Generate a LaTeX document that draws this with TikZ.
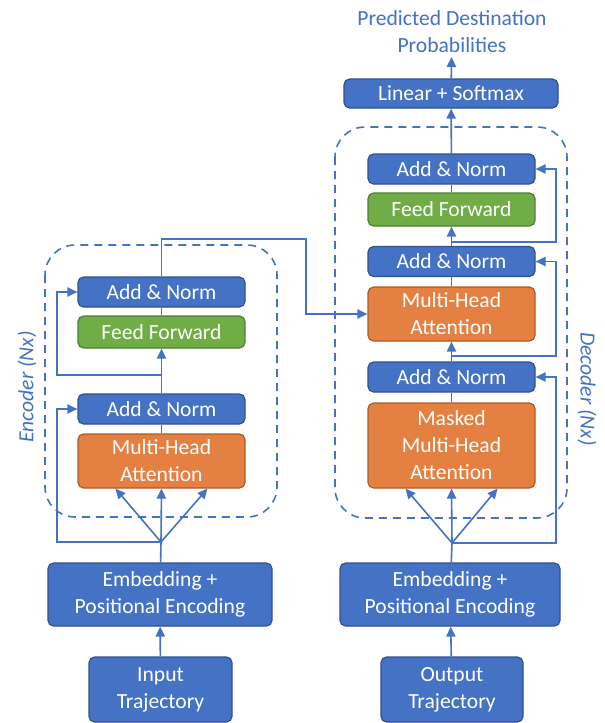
\documentclass[tikz,border=0pt]{standalone}
\usepackage{fontspec}
\setmainfont{Carlito}
\usetikzlibrary{arrows.meta}
\definecolor{lineblue}{HTML}{4472C4}
\definecolor{boxblue}{HTML}{4472C4}
\definecolor{edgeblue}{HTML}{2F528F}
\definecolor{boxgreen}{HTML}{70AD47}
\definecolor{edgegreen}{HTML}{507E32}
\definecolor{boxorange}{HTML}{E48041}
\definecolor{edgeorange}{HTML}{AE5A21}
\begin{document}
\begin{tikzpicture}[x=0.5pt, y=-0.5pt,
    font=\fontsize{10.8}{13.5}\selectfont,
    >={Triangle[length=5pt,width=4.6pt]},
    block/.style={draw, line width=0.6pt, rounded corners=2.8pt, text=white,
        align=center, inner sep=1pt, minimum width=83.5pt, minimum height=15pt},
    bluebox/.style={block, fill=boxblue, draw=edgeblue},
    greenbox/.style={block, fill=boxgreen, draw=edgegreen},
    orangebox/.style={block, fill=boxorange, draw=edgeorange},
    link/.style={draw=lineblue, line width=0.8pt},
    arr/.style={link, ->},
    stack/.style={draw=lineblue, line width=0.8pt, dash pattern=on 4pt off 3pt, rounded corners=15pt},
    caption/.style={text=lineblue, align=center}]
    \useasboundingbox (0,0) rectangle (605,723);

    \draw[stack] (45,245) rectangle (277,517);
    \draw[stack] (335,127) rectangle (567,518);
    \node[caption, rotate=90, font=\fontsize{10.8}{13.5}\selectfont\itshape] (enclabel) at (27,387) {Encoder (Nx)};
    \node[caption, rotate=-90, font=\fontsize{10.8}{13.5}\selectfont\itshape] (declabel) at (587,389) {Decoder (Nx)};

    \begin{scope}
        \node[bluebox, minimum width=71.5pt, minimum height=32.5pt] (inp) at (160.5,689.5) {Input\\Trajectory};
        \node[bluebox, minimum width=112pt, minimum height=31.5pt] (encemb) at (160,594.5) {Embedding +\\Positional Encoding};
        \node[orangebox, minimum height=27pt] (encmha) at (161.5,461) {Multi-Head\\Attention};
        \node[bluebox] (encan1) at (161.5,409) {Add \& Norm};
        \node[greenbox, minimum height=16pt] (encff) at (161.5,332) {Feed Forward};
        \node[bluebox] (encan2) at (161.5,292) {Add \& Norm};

        \coordinate (encb1) at (161,542);
        \coordinate (encb2) at (161,375);
        \coordinate (encres) at (57,542);
        \coordinate (cross) at (306,239);

        \draw[arr] (inp) -- (encemb);
        \draw[link] (encemb) -- (encb1);
        \draw[arr] (encb1) -- ([xshift=-23pt]encmha.south);
        \draw[arr] (encb1) -- (encmha.south);
        \draw[arr] (encb1) -- ([xshift=23pt]encmha.south);
        \draw[arr] (encb1) -- (encres) |- (encan1.west);
        \draw[link] (encmha) -- (encan1);
        \draw[arr] (encan1) -- (encff);
        \draw[arr] (encb2) -- (encb2 -| encres) |- (encan2.west);
        \draw[link] (encff) -- (encan2);
    \end{scope}

    \begin{scope}
        \node[bluebox, minimum width=71pt, minimum height=32.5pt] (outp) at (452,689.5) {Output\\Trajectory};
        \node[bluebox, minimum width=110pt, minimum height=31.5pt] (decemb) at (450,594.5) {Embedding +\\Positional Encoding};
        \node[orangebox, minimum height=42.5pt] (decmmha) at (451.5,445.5) {Masked\\Multi-Head\\Attention};
        \node[bluebox] (decan1) at (451.5,377) {Add \& Norm};
        \node[orangebox, minimum height=27pt] (decmha) at (451.5,314) {Multi-Head\\Attention};
        \node[bluebox] (decan2) at (451.5,261.5) {Add \& Norm};
        \node[greenbox, minimum height=16.5pt] (decff) at (451.5,209.5) {Feed Forward};
        \node[bluebox] (decan3) at (451.5,169) {Add \& Norm};
        \node[bluebox, minimum width=107pt, minimum height=14.5pt] (linear) at (451,93.5) {Linear + Softmax};
        \node[caption, inner sep=2pt] (pred) at (452,31.5) {Predicted Destination\\Probabilities};

        \coordinate (decb1) at (452,543);
        \coordinate (decb2) at (452,356);
        \coordinate (decb3) at (452,242);
        \coordinate (decres) at (556,543);

        \draw[arr] (outp) -- (decemb);
        \draw[link] (decemb) -- (decb1);
        \draw[arr] (decb1) -- ([xshift=-23pt]decmmha.south);
        \draw[arr] (decb1) -- (decmmha.south);
        \draw[arr] (decb1) -- ([xshift=23pt]decmmha.south);
        \draw[arr] (decb1) -- (decres) |- (decan1.east);
        \draw[link] (decmmha) -- (decan1);
        \draw[arr] (decan1) -- (decmha);
        \draw[arr] (decb2) -- (decb2 -| decres) |- (decan2.east);
        \draw[link] (decmha) -- (decan2);
        \draw[arr] (decan2) -- (decff);
        \draw[arr] (decb3) -- (decb3 -| decres) |- (decan3.east);
        \draw[link] (decff) -- (decan3);
        \draw[arr] (decan3) -- (linear);
        \draw[arr] (linear) -- (pred);
    \end{scope}

    \draw[arr] (encan2.north) |- (cross) |- (decmha.west);
\end{tikzpicture}
\end{document}
